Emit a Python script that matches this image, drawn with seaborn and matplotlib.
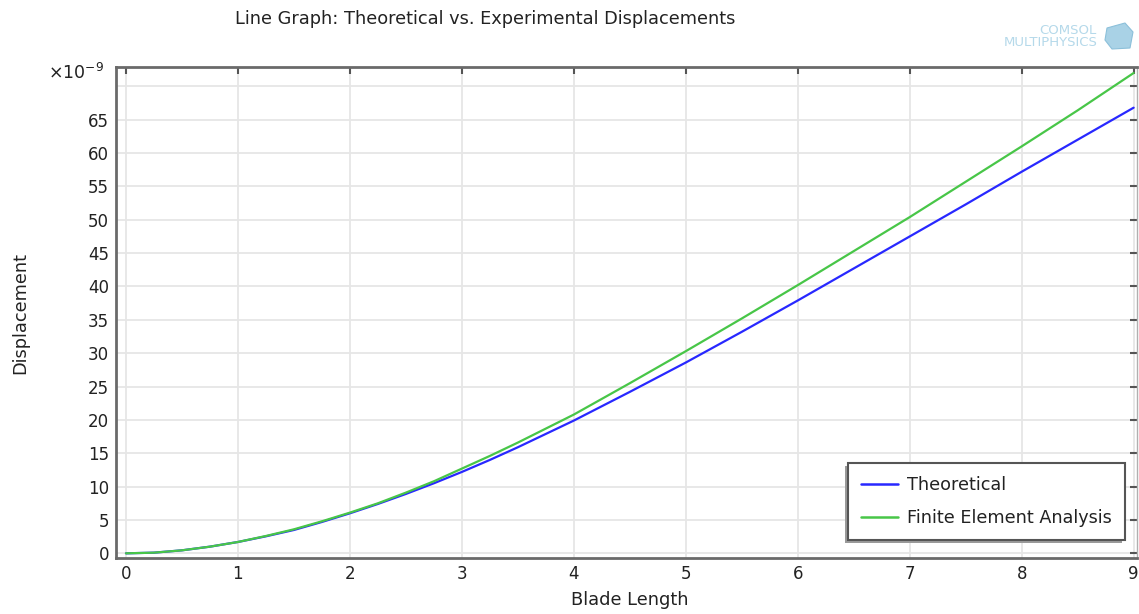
import numpy as np
import pandas as pd
import matplotlib
matplotlib.use("Agg")
import matplotlib.pyplot as plt
from matplotlib.patches import Polygon, Rectangle
import seaborn as sns

# ---- data (displacement in units of 1e-9) ----
blade_length = [0, 0.25, 0.5, 0.75, 1, 1.25, 1.5, 1.75, 2, 2.25, 2.5, 2.75, 3, 3.25, 3.5, 3.75,
                4, 4.5, 5, 5.5, 6, 6.5, 7, 7.5, 8, 8.5, 9]
theoretical = [0, 0.1, 0.45, 1.0, 1.7, 2.55, 3.5, 4.7, 6.0, 7.4, 8.9, 10.5, 12.2, 14.0, 15.9, 17.9,
               19.9, 24.2, 28.6, 33.2, 37.9, 42.7, 47.5, 52.3, 57.2, 62.0, 66.8]
fea = [0, 0.1, 0.45, 1.0, 1.7, 2.6, 3.6, 4.8, 6.1, 7.5, 9.1, 10.8, 12.7, 14.6, 16.6, 18.7,
       20.8, 25.5, 30.3, 35.2, 40.2, 45.3, 50.4, 55.7, 61.0, 66.4, 72.0]
series_names = ["Theoretical", "Finite Element Analysis"]
x_ticks = list(range(0, 10))
y_ticks = list(range(0, 75, 5))
y_tick_labels = [str(v) if v < 70 else "" for v in y_ticks]

df = pd.DataFrame({
    "Blade Length": blade_length * 2,
    "Displacement": theoretical + fea,
    "Series": [series_names[0]] * len(blade_length) + [series_names[1]] * len(blade_length),
})

sns.set_theme(style="white")
plt.rcParams["font.family"] = ["DejaVu Sans"]

W, H = 1139, 614
fig = plt.figure(figsize=(W / 100, H / 100), dpi=100)
left, right, top, bottom = 116, 1137, 67, 558
ax = fig.add_axes([left / W, 1 - bottom / H, (right - left) / W, (bottom - top) / H])

palette = {"Theoretical": "#2828ff", "Finite Element Analysis": "#48c648"}
sns.lineplot(data=df, x="Blade Length", y="Displacement", hue="Series",
             palette=palette, linewidth=1.6, ax=ax, sort=False)

ax.set_xlim(-0.089, 9.03)
ax.set_ylim(-0.7, 72.9)
ax.set_xticks(x_ticks)
ax.set_yticks(y_ticks)
ax.set_yticklabels(y_tick_labels)
ax.grid(True, color="#e6e6e6", linewidth=1.3)
ax.set_axisbelow(True)

for s in ["left", "bottom", "top"]:
    ax.spines[s].set_color("#6a6a6a")
    ax.spines[s].set_linewidth(2.0)
ax.spines["right"].set_color("#b0b0b0")
ax.spines["right"].set_linewidth(1.0)

ax.tick_params(axis="both", direction="in", length=5, width=1.5, color="#555555",
               labelsize=12, labelcolor="#222222", top=True, right=True, pad=5)

ax.set_xlabel("Blade Length", fontsize=12.8, color="#222222")
ax.set_ylabel("Displacement", fontsize=12.8, color="#222222")
ax.xaxis.set_label_coords((630 - left) / (right - left), -(600 - bottom) / (bottom - top))
ax.yaxis.set_label_coords((20 - left) / (right - left), 0.5)
ax.xaxis.label.set_va("center")
ax.yaxis.label.set_va("center")

fig.text(48 / W, 1 - 79 / H, r"$\times$10$^{\mathregular{-9}}$",
         fontsize=12.5, color="#222222", ha="left", va="baseline")

leg = ax.legend(loc="lower right",
                bbox_to_anchor=((1125 - left) / (right - left), (bottom - 540) / (bottom - top)),
                borderaxespad=0, fontsize=12.7, frameon=True, fancybox=False, shadow=False,
                borderpad=0.75, handlelength=2.1, handletextpad=0.5, labelspacing=0.83)
leg.get_frame().set_edgecolor("#555555")
leg.get_frame().set_linewidth(1.5)
leg.get_frame().set_alpha(1.0)
for line in leg.get_lines():
    line.set_linewidth(1.8)
for t in leg.get_texts():
    t.set_color("#222222")

fig.text(485 / W, 1 - 19 / H, "Line Graph: Theoretical vs. Experimental Displacements",
         fontsize=12.8, color="#222222", ha="center", va="center")

# logo text
fig.text(1096 / W, 1 - 30 / H, "COMSOL", fontsize=9.5, color="#b5d9ea",
         ha="right", va="center")
fig.text(1098 / W, 1 - 43 / H, "MULTIPHYSICS", fontsize=9.5, color="#b5d9ea",
         ha="right", va="center")
cube = Polygon([[1107 / W, 1 - 28 / H], [1125 / W, 1 - 23 / H], [1133 / W, 1 - 32 / H],
                [1130 / W, 1 - 48 / H], [1112 / W, 1 - 49 / H], [1105 / W, 1 - 40 / H]],
               closed=True, transform=fig.transFigure, facecolor="#a9d2e6",
               edgecolor="#8cc0da", linewidth=0.8)
fig.patches.append(cube)

# legend shadow offset to the lower left
fig.canvas.draw()
bb = leg.get_frame().get_window_extent().transformed(ax.transAxes.inverted())
dx = 3 / (right - left)
dy = 3 / (bottom - top)
shadow = Rectangle((bb.x0 - dx, bb.y0 - dy), bb.width, bb.height, transform=ax.transAxes,
                   facecolor="#9a9a9a", edgecolor="none", zorder=4.9, clip_on=False)
ax.add_patch(shadow)

fig.savefig("out.png", dpi=100)
